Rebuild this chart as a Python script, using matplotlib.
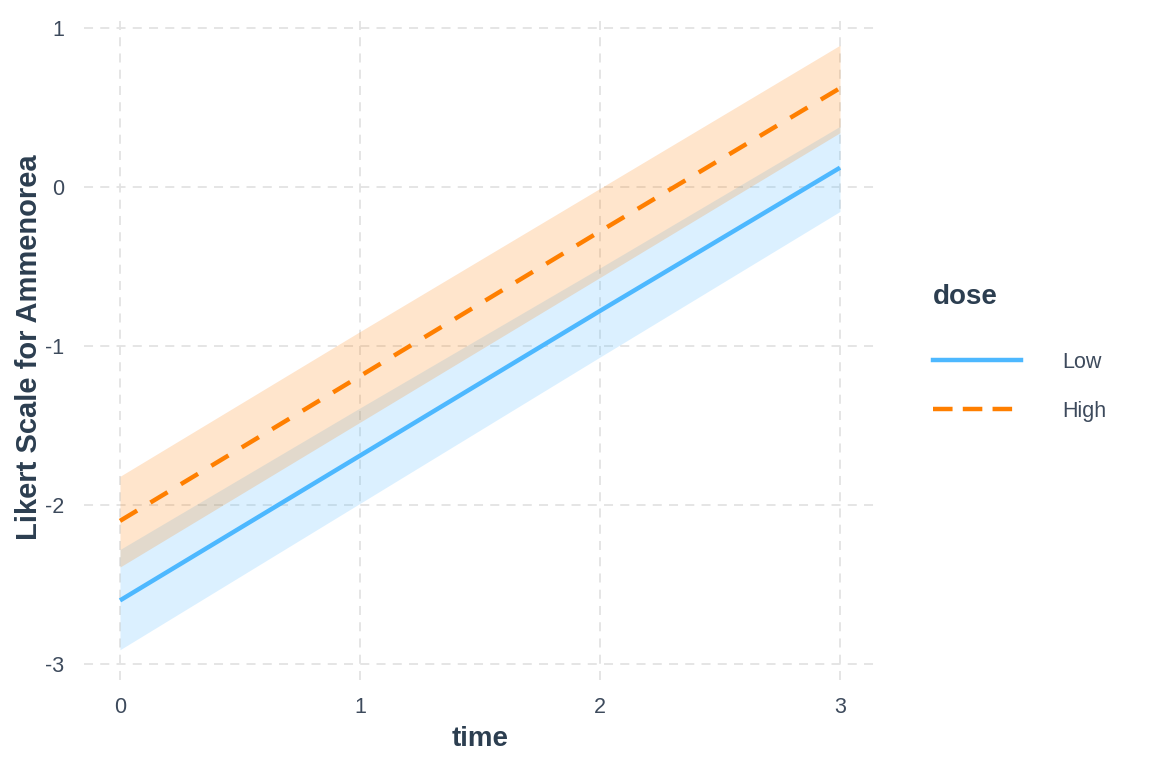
import matplotlib
matplotlib.use("Agg")
import matplotlib.pyplot as plt
from matplotlib.lines import Line2D

plt.rcParams['font.family'] = ['Liberation Sans', 'DejaVu Sans']

time = [0, 1, 2, 3]
dose_levels = ["Low", "High"]

low_fit = [-2.60, -1.69, -0.78, 0.12]
low_lo = [-2.91, -1.99, -1.07, -0.155]
low_hi = [-2.28, -1.39, -0.51, 0.38]

high_fit = [-2.10, -1.19, -0.28, 0.62]
high_lo = [-2.39, -1.48, -0.57, 0.34]
high_hi = [-1.82, -0.91, -0.01, 0.89]

c_low = "#4db8ff"
c_high = "#ff7f00"
txt = "#2c3e50"
tick_c = "#3d4a5c"

fig = plt.figure(figsize=(11.52, 7.68), dpi=100)
ax = fig.add_axes([0.0729, 0.1146, 0.6875, 0.8659])

ax.fill_between(time, low_lo, low_hi, color=c_low, alpha=0.2, lw=0)
ax.fill_between(time, high_lo, high_hi, color=c_high, alpha=0.2, lw=0)
ax.plot(time, low_fit, color=c_low, lw=3.2, solid_capstyle='butt')
ax.plot(time, high_fit, color=c_high, lw=3.2, ls=(0, (4.5, 3.5)), dash_capstyle='butt')

ax.set_xlim(-0.15, 3.15)
ax.set_ylim(-3.1, 1.08)
ax.set_xticks([0, 1, 2, 3])
ax.set_yticks([-3, -2, -1, 0, 1])
ax.set_xticklabels(["0", "1", "2", "3"])
ax.set_yticklabels(["-3", "-2", "-1", "0", "1"])
ax.grid(True, color="#e3e3e3", lw=1.3, ls=(0, (5, 4)))
ax.set_axisbelow(True)
for s in ax.spines.values():
    s.set_visible(False)
ax.tick_params(axis='y', length=0, labelsize=15.5, labelcolor=tick_c, pad=14)
ax.tick_params(axis='x', length=0, labelsize=15.5, labelcolor=tick_c, pad=12)

ax.set_xlabel("time", fontsize=20, fontweight='bold', color=txt, labelpad=6)
ax.set_ylabel("Likert Scale for Ammenorea", fontsize=21, fontweight='bold', color=txt, labelpad=2)

handles = [Line2D([], [], color=c_low, lw=3.2),
           Line2D([], [], color=c_high, lw=3.2, ls=(0, (4.4, 2.3)))]
leg = fig.legend(handles, dose_levels, title="dose", loc='upper left',
                 bbox_to_anchor=(0.793, 0.655), frameon=False,
                 handlelength=4.1, handletextpad=1.9, labelspacing=1.3,
                 fontsize=15.5, title_fontproperties={'weight': 'bold', 'size': 20})
leg._legend_box.align = "left"
leg._legend_box.sep = 30
leg.get_title().set_color(txt)
for t in leg.get_texts():
    t.set_color(tick_c)

fig.savefig("out.png", dpi=100)
